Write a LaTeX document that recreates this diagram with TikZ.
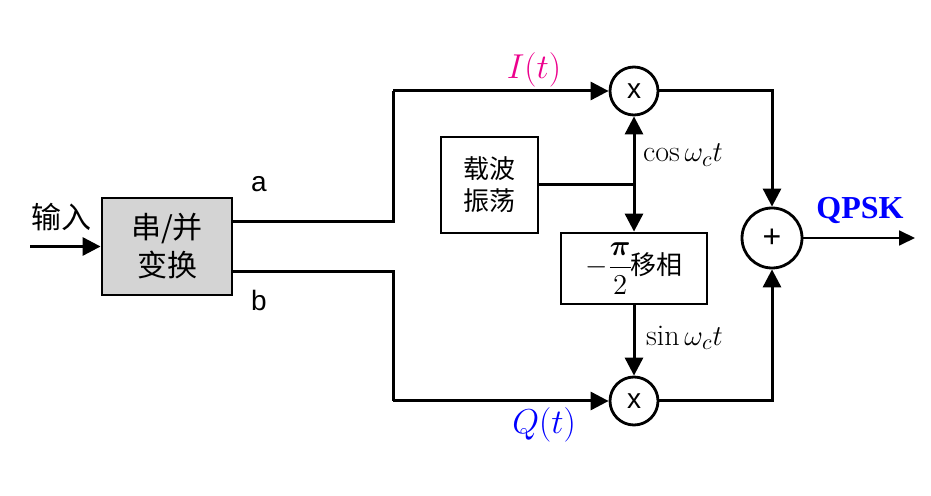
\documentclass[tikz,border=0pt]{standalone}
\usepackage{amsmath}
\usepackage{fontspec}
\setsansfont{Liberation Sans}
\newfontfamily\cjk{Noto Sans CJK SC}
\newfontfamily\tnr{Liberation Serif}
\usetikzlibrary{arrows.meta,positioning}

\begin{document}
\begin{tikzpicture}[x=0.5pt,y=-0.5pt]
	\tikzset{blk/.style={draw=black,line width=1.4pt,inner sep=0pt,align=center},
		mix/.style={draw=black,line width=1.4pt,circle,inner sep=0pt,minimum size=24pt,font=\sffamily\fontsize{14}{16}\selectfont},
		sig/.style={line width=1.5pt,-{Triangle[length=9pt,width=9pt]}},
		wire/.style={line width=1.5pt}}
	\useasboundingbox (0,0) rectangle (931,496);
	% blocks
	\node[blk,fill=black!17,minimum width=65pt,minimum height=48.5pt,font=\cjk\fontsize{15}{19}\selectfont] (SP) at (167,246.5) {串/并\\变换};
	\node[blk,minimum width=48.5pt,minimum height=48pt,font=\cjk\fontsize{13}{16}\selectfont] (OSC) at (489.5,185) {载波\\振荡};
	\node[blk,minimum width=73pt,minimum height=35.5pt,font=\fontsize{14}{16}\selectfont] (PH) at (634,268.5) {$-\dfrac{\boldsymbol{\pi}}{2}$\hspace{-1pt}{\cjk\fontsize{13}{16}\selectfont 移相}};
	\node[mix] (M1) at (634,91) {x};
	\node[mix] (M2) at (634,401) {x};
	\node[mix,minimum size=30pt,font=\sffamily\fontsize{16}{18}\selectfont] (S) at (772,238) {+};
	% coordinates
	\coordinate (IN) at (30,246.5);
	\coordinate (OUT) at (915,238);
	\coordinate (A) at (SP.east |- 0,222);
	\coordinate (B) at (SP.east |- 0,272);
	\coordinate (UP) at (393,91);
	\coordinate (DN) at (393,401);
	\coordinate (SPL) at (M1 |- OSC.east);
	% labels
	\node[font=\cjk\fontsize{15}{18}\selectfont] (LIN) at (62,217) {输入};
	\node[font=\sffamily\fontsize{14}{16}\selectfont] (La) at (259,184) {a};
	\node[font=\sffamily\fontsize{14}{16}\selectfont] (Lb) at (259,300) {b};
	\node[text=magenta,font=\fontsize{17}{19}\selectfont] (LI) at (534,70) {$I(t)$};
	\node[text=blue,font=\fontsize{17}{19}\selectfont] (LQ) at (544,425) {$Q(t)$};
	\node[anchor=west,font=\fontsize{15}{17}\selectfont] (LC) at (636,155) {$\cos\omega_c t$};
	\node[anchor=west,font=\fontsize{15}{17}\selectfont] (LS) at (639,338) {$\sin\omega_c t$};
	\node[text=blue,font=\tnr\bfseries\fontsize{16}{18}\selectfont] (LQP) at (860,211) {QPSK};
	% connections
	\draw[sig] (IN) -- (SP);
	\draw[wire] (A) -| (UP);
	\draw[sig] (UP) -- (M1);
	\draw[wire] (B) -| (DN);
	\draw[sig] (DN) -- (M2);
	\draw[wire] (OSC.east) -- (SPL);
	\draw[sig] (SPL) -- (M1);
	\draw[sig] (SPL) -- (PH);
	\draw[sig] (PH) -- (M2);
	\draw[sig] (M1) -| (S);
	\draw[sig] (M2) -| (S);
	\draw[line width=0.9pt,-{Triangle[length=8pt,width=7.5pt]}] (S) -- (OUT);
\end{tikzpicture}
\end{document}
